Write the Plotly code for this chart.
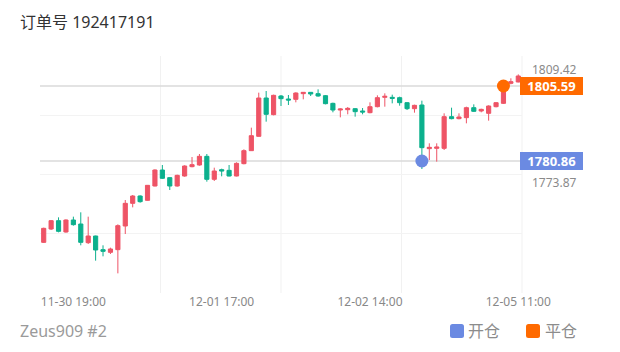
import numpy as np
import plotly.graph_objects as go

# ---------------- data ----------------
sessions = [("11-30", 15, 22), ("12-01", 1, 23), ("12-02", 1, 23), ("12-05", 1, 11)]
times = [f"{d} {h:02d}:00" for d, a, b in sessions for h in range(a, b + 1)]

opens = [1754.04, 1758.44, 1761.19, 1757.45, 1761.41, 1760.09, 1753.93, 1756.13, 1751.63, 1750.75,
         1751.63, 1759.43, 1766.90, 1769.32, 1767.89, 1772.62, 1777.89, 1775.37, 1772.62, 1775.91,
         1778.99, 1779.54, 1782.40, 1774.82, 1778.00, 1777.78, 1775.91, 1779.98, 1784.27, 1788.99,
         1801.63, 1796.14, 1802.29, 1801.30, 1801.19, 1803.06, 1803.50, 1803.06, 1802.40, 1799.87,
         1797.67, 1797.78, 1798.11, 1797.35, 1796.80, 1798.77, 1801.85, 1801.85, 1801.74, 1800.09,
         1798.11, 1799.32, 1784.93, 1785.04, 1785.04, 1795.48, 1794.82, 1795.15, 1798.44, 1797.35,
         1796.58, 1798.77, 1799.87, 1806.47, 1806.91]
highs = [1758.88, 1761.41, 1762.29, 1761.63, 1762.51, 1763.94, 1762.51, 1756.24, 1753.06, 1752.29,
         1759.98, 1768.00, 1769.65, 1769.54, 1772.95, 1778.11, 1779.54, 1775.50, 1776.35, 1779.43,
         1782.18, 1783.17, 1783.17, 1778.66, 1778.33, 1779.54, 1780.42, 1784.71, 1791.85, 1803.39,
         1803.94, 1802.73, 1802.62, 1802.62, 1803.50, 1803.60, 1803.60, 1804.49, 1802.62, 1800.09,
         1798.22, 1798.66, 1798.33, 1798.33, 1800.20, 1802.51, 1803.17, 1802.73, 1802.07, 1800.31,
         1799.43, 1800.75, 1786.69, 1786.69, 1796.58, 1798.44, 1796.58, 1798.77, 1799.54, 1798.11,
         1799.21, 1800.31, 1805.92, 1808.12, 1809.42]
lows = [1753.83, 1758.11, 1757.34, 1757.23, 1759.54, 1753.06, 1753.50, 1748.00, 1749.43, 1750.20,
        1743.82, 1756.79, 1765.58, 1767.12, 1767.80, 1772.50, 1774.93, 1771.30, 1772.40, 1775.70,
        1778.77, 1779.32, 1774.05, 1774.27, 1775.81, 1775.80, 1775.80, 1779.76, 1784.20, 1788.90,
        1793.83, 1795.92, 1798.99, 1799.32, 1800.20, 1801.19, 1802.29, 1802.07, 1799.54, 1796.91,
        1795.26, 1796.25, 1795.48, 1796.25, 1796.58, 1798.55, 1798.77, 1799.87, 1799.10, 1797.67,
        1796.80, 1778.22, 1781.19, 1780.64, 1784.49, 1794.60, 1794.60, 1793.28, 1797.02, 1796.91,
        1794.16, 1798.55, 1799.65, 1806.14, 1806.80]
closes = [1758.66, 1761.19, 1757.67, 1761.41, 1759.87, 1754.04, 1756.13, 1751.52, 1751.08, 1751.85,
          1759.54, 1766.90, 1769.32, 1767.45, 1772.84, 1777.89, 1775.15, 1772.62, 1776.13, 1779.21,
          1779.65, 1782.40, 1774.82, 1777.56, 1777.56, 1775.91, 1780.09, 1784.27, 1789.21, 1801.63,
          1796.25, 1802.51, 1801.41, 1800.97, 1803.28, 1803.50, 1802.95, 1802.29, 1799.76, 1797.67,
          1798.00, 1798.22, 1797.13, 1797.02, 1798.77, 1801.74, 1802.18, 1801.52, 1800.09, 1798.11,
          1799.21, 1785.26, 1785.37, 1785.48, 1795.48, 1794.82, 1795.37, 1798.44, 1797.24, 1797.89,
          1798.99, 1800.09, 1805.59, 1807.02, 1808.89]

tick_times = ["11-30 19:00", "12-01 17:00", "12-02 14:00", "12-05 11:00"]

open_time = "12-02 21:00"
open_price = 1780.86
close_time = "12-05 09:00"
close_price = 1805.59

axis_marks = [1809.42, 1773.87]

title_text = "订单号 192417191"
footer_text = "Zeus909 #2"
legend_names = ["开仓", "平仓"]

# ---------------- style ----------------
UP = "#EE5466"
DOWN = "#0CB08D"
BLUE = "#6B8AE2"
ORANGE = "#FF6A00"
FONT = "Noto Sans, Noto Sans CJK SC, sans-serif"

W, H = 620, 352
L, R, T, B = 40, 98, 56, 59
PW, PH = W - L - R, H - T - B
def px(x):
    return (x - L) / PW
def py(y):
    return (H - B - y) / PH

y_range = [1737.34, 1815.48]
grid_vals = list(np.linspace(y_range[0], y_range[1], 5))

fig = go.Figure()
fig.add_trace(go.Candlestick(
    x=times, open=opens, high=highs, low=lows, close=closes,
    increasing=dict(line=dict(color=UP, width=1), fillcolor=UP),
    decreasing=dict(line=dict(color=DOWN, width=1), fillcolor=DOWN),
    whiskerwidth=0, showlegend=False, hoverinfo="skip",
))
fig.add_trace(go.Scatter(x=[open_time], y=[open_price], mode="markers",
                         marker=dict(size=13, color=BLUE), showlegend=False, hoverinfo="skip"))
fig.add_trace(go.Scatter(x=[close_time], y=[close_price], mode="markers",
                         marker=dict(size=13, color=ORANGE), showlegend=False, hoverinfo="skip"))

shapes = []
for fx in [0.25, 0.5, 0.75, 1.0]:
    shapes.append(dict(type="line", xref="paper", yref="paper", x0=fx, x1=fx, y0=0, y1=1,
                       line=dict(color="#f1f1f1", width=1), layer="below"))
for v in [open_price, close_price]:
    shapes.append(dict(type="line", xref="paper", yref="y", x0=0, x1=1, y0=v, y1=v,
                       line=dict(color="#dadada", width=1.5), layer="below"))

def rounded_square(x_paper, cy_paper, color, s=14, r=2.5):
    h = s / 2
    path = (f"M {r},{-h} L {s-r},{-h} Q {s},{-h} {s},{-h+r} L {s},{h-r} Q {s},{h} {s-r},{h} "
            f"L {r},{h} Q 0,{h} 0,{h-r} L 0,{-h+r} Q 0,{-h} {r},{-h} Z")
    return dict(type="path", xref="paper", yref="paper", xsizemode="pixel", ysizemode="pixel",
                xanchor=x_paper, yanchor=cy_paper, path=path,
                fillcolor=color, line=dict(width=0))

leg_y = py(331)
shapes.append(rounded_square(px(450), leg_y, BLUE))
shapes.append(rounded_square(px(526), leg_y, ORANGE))

annotations = [
    dict(text=footer_text, xref="paper", yref="paper", x=px(18), y=leg_y, xanchor="left",
         yanchor="middle", showarrow=False, font=dict(size=16, color="#9a9a9a", family=FONT)),
    dict(text=legend_names[0], xref="paper", yref="paper", x=px(466), y=leg_y, xanchor="left",
         yanchor="middle", showarrow=False, font=dict(size=16, color="#8c8c8c", family=FONT)),
    dict(text=legend_names[1], xref="paper", yref="paper", x=px(543), y=leg_y, xanchor="left",
         yanchor="middle", showarrow=False, font=dict(size=16, color="#8c8c8c", family=FONT)),
]
for v, shift in zip(axis_marks, [5, 0]):
    annotations.append(dict(text=f"{v:.2f}", xref="paper", yref="y", x=px(530), y=v,
                            xanchor="left", yanchor="middle", showarrow=False, yshift=shift,
                            font=dict(size=12, color="#8a8a8a", family=FONT)))
for v, c in [(close_price, ORANGE), (open_price, BLUE)]:
    annotations.append(dict(text=f"<b>{v:.2f}</b>", xref="paper", yref="y", x=px(520), y=v,
                            xanchor="left", yanchor="middle", showarrow=False,
                            bgcolor=c, borderwidth=0, borderpad=2, width=59, height=14,
                            font=dict(size=13, color="white", family=FONT)))

fig.update_layout(
    width=W, height=H, margin=dict(l=L, r=R, t=T, b=B),
    paper_bgcolor="white", plot_bgcolor="white",
    showlegend=False,
    title=dict(text=title_text, x=20 / W, xref="container", xanchor="left",
               y=1 - 22 / H, yref="container", yanchor="middle",
               font=dict(size=16, color="#333333", family=FONT)),
    xaxis=dict(type="category", range=[-0.5, len(times) - 0.5], rangeslider=dict(visible=False),
               showgrid=False, zeroline=False, showline=False, ticks="",
               tickmode="array", tickvals=tick_times, ticktext=tick_times,
               tickfont=dict(size=12, color="#888888", family=FONT), fixedrange=True),
    yaxis=dict(range=y_range, tickmode="array", tickvals=grid_vals, showticklabels=False,
               showgrid=True, gridcolor="#f3f3f3", gridwidth=1, zeroline=False, side="right",
               fixedrange=True),
    shapes=shapes, annotations=annotations,
    boxgap=0.2,
)

fig.write_html("out.html")
